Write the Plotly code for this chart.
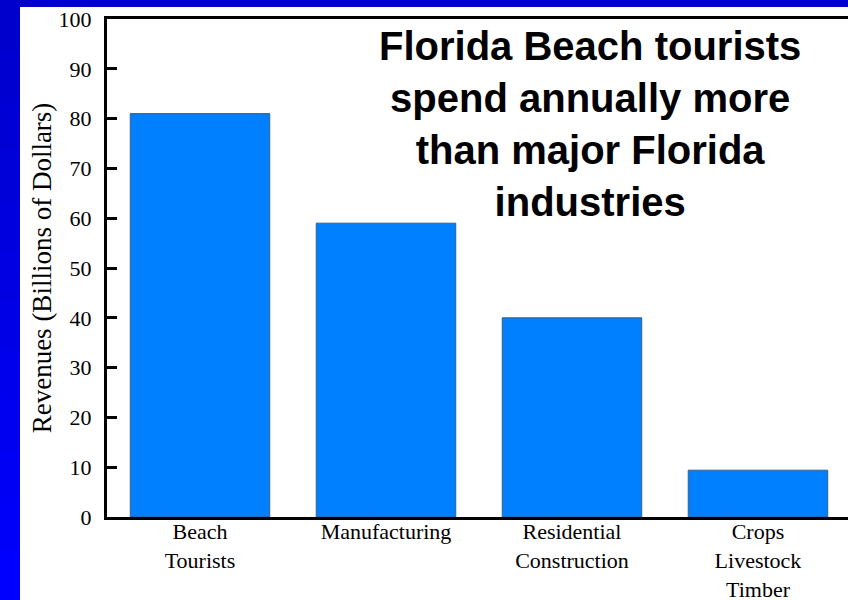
import plotly.graph_objects as go

# Florida revenues by sector (billions of dollars)
categories = ['Beach<br>Tourists', 'Manufacturing', 'Residential<br>Construction',
              'Crops<br>Livestock<br>Timber']
revenues = [81, 59, 40, 9.4]
y_ticks = [0, 10, 20, 30, 40, 50, 60, 70, 80, 90, 100]

title_text = ('<b>Florida Beach tourists<br>spend annually more<br>'
              'than major Florida<br>industries</b>')

W, H = 848, 600
ML, MR, MT, MB = 107, 0, 19, 83


def px_x(p):
    """pixel x -> paper x"""
    return (p - ML) / (W - ML - MR)


def px_y(p):
    """pixel y (from top) -> paper y"""
    return (H - MB - p) / (H - MT - MB)


fig = go.Figure()
fig.add_trace(go.Bar(
    x=categories,
    y=revenues,
    width=0.75,
    marker=dict(color='#0080ff', line=dict(color='#3a5f8a', width=1)),
    showlegend=False))

# slide background: blue frame on the left and top, white inside
shapes = [dict(type='rect', xref='paper', yref='paper', layer='below',
               x0=px_x(0), x1=px_x(W), y0=px_y(H), y1=px_y(0),
               fillcolor='white', line=dict(width=0))]
steps = 12
for i in range(steps):
    t = i / (steps - 1)
    blue = int(0xcc + (0xff - 0xcc) * t)
    shapes.append(dict(type='rect', xref='paper', yref='paper', layer='below',
                       x0=px_x(0), x1=px_x(20),
                       y0=px_y(H * (i + 1) / steps), y1=px_y(H * i / steps),
                       fillcolor='rgb(0,0,%d)' % blue, line=dict(width=0)))
shapes.append(dict(type='rect', xref='paper', yref='paper', layer='below',
                   x0=px_x(0), x1=px_x(W), y0=px_y(7), y1=px_y(0),
                   fillcolor='#0000cc', line=dict(width=0)))

fig.update_layout(
    width=W, height=H,
    margin=dict(l=ML, r=MR, t=MT, b=MB, pad=0),
    paper_bgcolor='white',
    plot_bgcolor='white',
    shapes=shapes,
    bargap=0.25,
    xaxis=dict(range=[-0.5, 3.484], showline=True, linecolor='black', linewidth=3,
               mirror=True, ticks='', showgrid=False, zeroline=False,
               ticklabelstandoff=-7, automargin=False,
               tickfont=dict(family='Liberation Serif', size=22, color='black')),
    yaxis=dict(range=[0, 100], tickvals=y_ticks, showline=True, linecolor='black',
               linewidth=3, ticks='inside', ticklen=10, tickwidth=3, tickcolor='black',
               showgrid=False, zeroline=False, ticklabelstandoff=8, automargin=False,
               tickfont=dict(family='Liberation Serif', size=22, color='black'),
               title=dict(text='Revenues (Billions of Dollars)', standoff=0,
                          font=dict(family='Liberation Serif', size=27, color='black'))),
    annotations=[dict(text=title_text, xref='paper', yref='paper',
                      x=px_x(590), y=px_y(22), xanchor='center', yanchor='top',
                      showarrow=False, align='center',
                      font=dict(family='Liberation Sans', size=40, color='black'))],
)

# drop the browser's default page margin so the figure sits at the window corner
fig.write_html("out.html", config={'displayModeBar': False},
               post_script="document.body.style.margin='0';")
